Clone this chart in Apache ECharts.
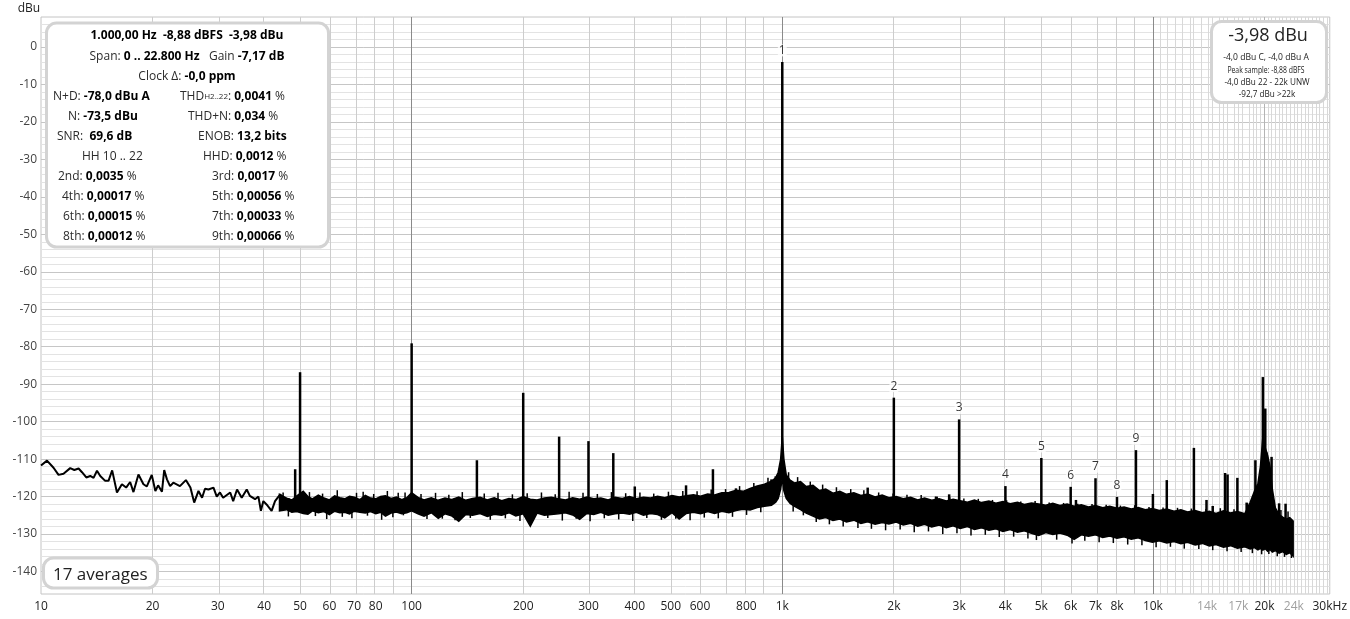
<!DOCTYPE html>
<html><head><meta charset="utf-8">
<script src="https://cdn.jsdelivr.net/npm/echarts@6/dist/echarts.min.js"></script>
<style>html,body{margin:0;padding:0;background:#fff}#c{width:1350px;height:619px}</style>
</head><body><div id="c"></div>
<script>
// ---------- axis ticks ----------
const xTickFreqs = [10,20,30,40,50,60,70,80,100,200,300,400,500,600,800,1000,2000,3000,4000,5000,6000,7000,8000,10000,14000,17000,20000,24000,30000];
const xTickLabels = ['10','20','30','40','50','60','70','80','100','200','300','400','500','600','800','1k','2k','3k','4k','5k','6k','7k','8k','10k','14k','17k','20k','24k','30kHz'];
const xTickFaint = ['14k','17k','24k'];
const yTickValues = [0,-10,-20,-30,-40,-50,-60,-70,-80,-90,-100,-110,-120,-130,-140];

// ---------- low-frequency trace (Hz, dBu) ----------
const lowFreq = [10.0,10.38,10.81,11.15,11.5,11.99,12.3,12.63,12.9,13.25,
  13.58,13.86,14.16,14.45,14.9,15.21,15.56,16.03,16.53,16.97,
  17.4,17.76,18.32,18.9,19.3,19.9,20.35,20.7,21.2,21.5,
  21.87,22.3,22.75,23.7,24.6,25.3,25.9,26.6,27.2,27.7,
  28.3,29.2,29.8,30.4,31.0,32.4,33.0,33.8,34.8,35.9,
  36.6,37.8,38.6,39.2,39.8,40.6,41.9,42.8,44.2,45.1,46.9];
const lowDb = [-111.7,-110.4,-112.3,-114.2,-113.9,-112.4,-112.9,-112.5,-113.5,-114.9,
  -114.5,-115.0,-113.1,-114.5,-115.8,-115.8,-113.0,-118.9,-116.7,-117.6,
  -116.1,-118.8,-114.1,-116.7,-117.3,-114.2,-118.5,-117.0,-118.7,-112.9,
  -115.4,-117.2,-116.3,-117.2,-115.6,-117.6,-121.6,-118.5,-120.3,-117.9,
  -118.1,-117.6,-120.0,-118.9,-120.3,-118.9,-121.2,-118.1,-120.3,-118.1,
  -119.8,-120.7,-120.0,-123.8,-121.2,-122.1,-123.8,-121.2,-119.4,-120.7,-120.7];

// ---------- noise band: frequency, upper and lower envelope (dBu) ----------
const bandFreq = [
  44,46,47.5,49,51,52.5,54,56,58,60,
  62,64,66,68,70,72.5,75,77.5,80,82.5,
  85,88,91,94,97,
  100,104,108,113,118,123,128,134,140,146,
  153,160,167,175,183,191,200,209,218,228,
  238,249,260,272,284,297,310,324,339,354,
  370,387,404,422,441,461,482,504,527,551,
  576,602,629,657,687,718,750,784,819,856,
  895,935,960,975,990,1000,
  1010,1025,1050,1080,1120,1160,1210,1260,1310,1370,
  1430,1490,1560,1630,1700,1780,1860,1940,2030,2120,
  2220,2320,2420,2530,2650,2770,2890,3020,3160,3300,
  3450,3610,3770,3940,4120,4310,4500,4700,4920,5140,
  5370,5610,5870,6130,6410,6700,7000,7320,7650,8000,
  8360,8740,9130,9540,9970,10400,10900,11400,11900,12400,
  13000,13600,14200,14800,15500,16200,16900,17700,18300,18800,
  19200,19500,19800,20100,20400,20700,21000,21400,21900,22400,
  22900,23400,23900];
const bandHi = [
  -119.4,-120.4,-120.9,-119.8,-118.6,-120.0,-120.6,-119.6,-120.4,-120.9,
  -119.8,-120.3,-120.6,-119.9,-120.2,-120.8,-119.7,-120.4,-120.6,-120.0,
  -119.8,-120.5,-120.1,-120.8,-120.3,
  -119.0,-120.2,-120.9,-120.3,-121.0,-120.4,-120.8,-120.1,-121.0,-120.5,
  -120.2,-120.9,-120.3,-121.1,-120.5,-120.8,-120.0,-120.7,-120.9,-120.4,
  -120.2,-120.6,-120.9,-120.3,-120.7,-120.1,-120.6,-120.4,-120.9,-120.2,
  -120.5,-120.0,-120.6,-120.2,-120.4,-119.9,-120.3,-119.7,-120.1,-119.8,
  -119.5,-119.9,-119.3,-119.6,-119.0,-118.9,-118.3,-118.6,-117.8,-117.2,
  -116.7,-115.9,-115.0,-113.5,-110.0,-104.0,
  -110.0,-114.2,-115.6,-116.4,-116.0,-117.3,-117.0,-118.4,-118.0,-119.1,
  -118.6,-119.4,-119.0,-119.7,-119.3,-120.1,-119.6,-120.3,-120.0,-120.6,
  -120.2,-120.9,-120.4,-121.0,-120.6,-121.2,-120.7,-121.1,-121.5,-120.9,
  -121.6,-121.2,-121.8,-121.3,-121.9,-121.5,-122.1,-121.7,-122.0,-122.3,
  -121.8,-122.4,-122.0,-122.6,-122.2,-122.8,-122.4,-123.0,-122.6,-123.1,
  -122.8,-123.3,-122.9,-123.5,-123.2,-123.7,-123.3,-123.9,-123.5,-124.1,
  -123.7,-124.3,-123.9,-124.5,-123.8,-124.4,-124.0,-124.6,-121.5,-118.5,
  -116.5,-112.0,-104.0,-107.0,-109.0,-112.0,-118.0,-123.0,-124.8,-125.5,
  -126.0,-125.6,-126.5];
const bandLo = [
  -123.8,-123.5,-124.2,-124.0,-124.5,-124.7,-123.8,-124.3,-124.0,-124.8,
  -123.9,-124.3,-124.2,-124.6,-123.9,-124.2,-124.4,-124.0,-124.6,-124.2,
  -125.2,-124.4,-124.1,-124.6,-124.3,
  -123.8,-124.6,-125.2,-124.3,-125.8,-124.6,-125.1,-126.6,-124.8,-125.0,
  -124.5,-125.3,-124.7,-125.0,-124.3,-125.2,-124.6,-127.9,-124.4,-125.0,
  -124.8,-124.6,-124.3,-124.9,-126.1,-124.5,-124.8,-124.2,-125.0,-124.6,
  -124.4,-124.7,-124.2,-125.0,-124.5,-124.8,-125.7,-124.3,-126.0,-124.5,
  -124.2,-124.6,-124.0,-124.5,-123.9,-124.3,-123.7,-123.4,-123.6,-122.9,
  -122.6,-122.3,-121.5,-120.5,-118.0,-115.0,
  -118.5,-120.5,-121.8,-122.6,-123.5,-124.4,-125.2,-126.0,-125.6,-126.4,
  -126.0,-126.8,-126.3,-127.2,-126.7,-127.4,-126.9,-127.3,-126.8,-127.6,
  -127.1,-127.9,-127.4,-128.1,-127.6,-128.3,-127.8,-128.5,-128.0,-128.8,
  -128.3,-129.0,-128.6,-129.3,-128.8,-129.5,-129.1,-129.8,-130.4,-129.6,
  -130.1,-129.7,-130.3,-131.4,-130.2,-130.6,-130.2,-130.9,-130.5,-131.1,
  -130.7,-131.4,-131.0,-131.7,-132.2,-131.8,-132.4,-132.0,-132.6,-132.2,
  -132.9,-132.5,-133.2,-132.8,-133.5,-133.1,-133.8,-133.4,-134.0,-133.6,
  -134.2,-133.8,-134.3,-133.9,-134.6,-134.1,-134.8,-134.4,-135.1,-134.7,
  -135.4,-135.0,-135.9];

// ---------- short noise spikes sticking out of the band (Hz, dBu) ----------
const hairFreq = [
  45,53,57.5,63,71,74,79,86,92,96,
  46.5,55,59,65,69,76,83,89,95,
  106,116,126,137,157,171,187,205,224,244,266,290,317,346,378,413,450,493,539,589,643,703,767,838,915,
  110,121,131,144,163,179,196,214,233,255,278,303,331,362,395,431,472,516,564,616,672,734,801,875,
  1040,1100,1190,1285,1400,1530,1660,1820,1990,2170,2370,2590,2830,3090,3380,3690,4030,4400,4810,5250,
  5740,6270,6850,7480,8170,8930,9760,10650,11650,12700,13900,15200,16550,18000,21200,22150,23150,
  1070,1140,1235,1340,1460,1600,1740,1900,2080,2270,2480,2710,2960,3230,3530,3850,4210,4600,4850,5500,
  6050,6550,7160,7820,8550,9340,10200,11150,12150,13300,14500,15850,17300,18550,19650,20550,21650,22650,23650];
const hairDb = [
  -118.9,-118.8,-119.2,-118.3,-119.0,-118.7,-119.3,-118.5,-119.0,-118.9,
  -125.3,-125.2,-126.0,-125.4,-125.8,-125.1,-126.2,-125.5,-125.0,
  -119.3,-119.0,-119.5,-118.8,-119.2,-119.0,-119.4,-119.1,-118.9,-119.4,-118.7,-119.0,-119.3,-118.8,-119.1,-118.9,-119.2,-118.7,-118.5,-118.6,-118.1,-118.0,-117.2,-116.4,-115.0,
  -126.0,-125.9,-126.3,-125.7,-126.2,-125.8,-126.5,-126.0,-125.7,-126.4,-125.9,-126.6,-125.8,-126.1,-126.5,-125.7,-126.2,-125.9,-126.3,-125.6,-125.8,-125.4,-124.9,-124.2,
  -113.5,-114.8,-116.0,-116.8,-117.5,-118.0,-118.3,-118.9,-119.2,-119.5,-119.6,-120.0,-120.2,-120.5,-120.6,-120.9,-121.0,-121.3,-121.2,-121.6,
  -121.7,-121.9,-122.0,-122.2,-122.4,-122.3,-122.8,-122.9,-123.0,-123.2,-123.3,-123.1,-123.4,-121.8,-121.0,-123.6,-124.0,
  -124.0,-125.0,-126.8,-127.4,-128.0,-128.4,-128.6,-129.0,-128.8,-129.5,-129.3,-130.0,-129.8,-130.4,-130.2,-130.8,-130.7,-131.2,-131.6,-131.5,
  -132.5,-131.8,-132.2,-132.4,-132.8,-133.0,-133.5,-133.4,-133.9,-134.0,-134.3,-134.6,-134.8,-135.1,-135.4,-135.3,-135.9,-136.1,-136.4];

// ---------- spurious peaks (Hz, dBu) ----------
const spurFreq = [48.5,50,100,150,200,250,300,350,400,550,650,750,840,885,935,960,
  1700,2610,2820,6200,10000,10900,12900,13950,14500,15660,15900,16900,17900,18900,19050,
  19800,20100,20250,20900,21900,22800];
const spurDb = [-112.7,-86.8,-79.1,-110.3,-92.3,-104.0,-105.2,-108.4,-117.3,-117.0,-112.7,-117.8,-117.8,-117.0,-115.4,-114.6,
  -117.6,-120.0,-119.4,-120.9,-119.3,-115.6,-107.0,-120.9,-122.5,-113.7,-114.1,-115.0,-121.6,-110.3,-117.3,
  -88.1,-96.5,-108.2,-109.4,-121.8,-121.9];

// ---------- fundamental + harmonics ----------
const harmFreq = [1000,2000,3000,4000,5000,6000,7000,8000,9000];
const harmDb = [-3.98,-93.6,-99.4,-117.2,-109.7,-117.4,-115.1,-120.1,-107.6];
const harmLabel = ['1','2','3','4','5','6','7','8','9'];

const L = Math.log10;
const F = '"Open Sans", sans-serif';

// base of a vertical mark = middle of the nearest noise-band sample
function bandMid(logf) {
  let best = 0, bd = Infinity;
  for (let i = 0; i < bandFreq.length; i++) {
    const d = Math.abs(L(bandFreq[i]) - logf);
    if (d < bd) { bd = d; best = i; }
  }
  return (bandHi[best] + bandLo[best]) / 2;
}
function stickRenderer(width) {
  return (params, api) => {
    const top = api.coord([api.value(0), api.value(1)]);
    const bot = api.coord([api.value(0), bandMid(api.value(0))]);
    return {type: 'line', shape: {x1: top[0], y1: top[1], x2: bot[0], y2: bot[1]},
      style: {stroke: '#000', lineWidth: width}};
  };
}

// ---------- grid lines ----------
const gridLines = [];
const addV = (f, c) => gridLines.push({xAxis: L(f), lineStyle: {color: c, width: 1, type: 'solid'}});
const addH = (v, c) => gridLines.push({yAxis: v, lineStyle: {color: c, width: 1, type: 'solid'}});
for (let v = -144; v <= 6; v += 2) addH(v, v % 10 === 0 ? '#c6c6c6' : '#e3e3e3');
for (const d of [10, 100, 1000]) for (let k = 2; k <= 9; k++) addV(k * d, '#cdcdcd');
for (let f = 10500; f < 30000; f += 500) if (f !== 20000) addV(f, '#d8d8d8');
addV(20000, '#b4b4b4');
[100, 1000, 10000].forEach(f => addV(f, '#8a8a8a'));

function xLabelIndex(v) {
  for (let i = 0; i < xTickFreqs.length; i++) if (Math.abs(L(xTickFreqs[i]) - v) < 1e-6) return i;
  return -1;
}

const rich = {
  r: {font: `12px ${F}`, fill: '#2b2b2b'},
  b: {font: `bold 12px ${F}`, fill: '#000'},
  s: {font: `8px ${F}`, fill: '#2b2b2b'}
};
function t(x, y, text, align) {
  return {type: 'text', x: x, y: y, z: 101, style: {text: text, font: `12px ${F}`, fill: '#2b2b2b',
    align: align || 'left', verticalAlign: 'middle', rich: rich}};
}
function small(x, y, text, sx) {
  return {type: 'text', x: x, y: y, z: 101, scaleX: sx, style: {text: text, font: `9.5px ${F}`, fill: '#222',
    align: 'center', verticalAlign: 'middle'}};
}
function box(x, y, w, h) {
  return {type: 'rect', z: 100, shape: {x: x, y: y, width: w, height: h, r: 10},
    style: {fill: '#fff', stroke: '#d3d3d3', lineWidth: 3}};
}

const graphics = [
  {type: 'text', x: 29, y: 9, z: 101, style: {text: 'dBu', font: `12px ${F}`, fill: '#222', align: 'center', verticalAlign: 'middle'}},
  box(46.5, 23, 282, 224),
  t(187, 36, '{b|1.000,00 Hz  -8,88 dBFS  -3,98 dBu}', 'center'),
  t(187, 57, '{r|Span: }{b|0 .. 22.800 Hz}{r|   Gain }{b|-7,17 dB}', 'center'),
  t(187, 77, '{r|Clock Δ: }{b|-0,0 ppm}', 'center'),
  t(53, 97, '{r|N+D: }{b|-78,0 dBu A}'),
  t(68, 117, '{r|N: }{b|-73,5 dBu}'),
  t(57, 137, '{r|SNR:  }{b|69,6 dB}'),
  t(82, 157, '{r|HH 10 .. 22}'),
  t(58, 177, '{r|2nd: }{b|0,0035}{r| %}'),
  t(62, 197, '{r|4th: }{b|0,00017}{r| %}'),
  t(63, 217, '{r|6th: }{b|0,00015}{r| %}'),
  t(63, 237, '{r|8th: }{b|0,00012}{r| %}'),
  t(180, 97, '{r|THD}{s|H2..22}{r|: }{b|0,0041}{r| %}'),
  t(188, 117, '{r|THD+N: }{b|0,034}{r| %}'),
  t(198, 137, '{r|ENOB: }{b|13,2 bits}'),
  t(203, 157, '{r|HHD: }{b|0,0012}{r| %}'),
  t(212, 177, '{r|3rd: }{b|0,0017}{r| %}'),
  t(212, 197, '{r|5th: }{b|0,00056}{r| %}'),
  t(212, 217, '{r|7th: }{b|0,00033}{r| %}'),
  t(212, 237, '{r|9th: }{b|0,00066}{r| %}'),
  box(1211.5, 21.5, 115, 81),
  {type: 'text', x: 1268, y: 36, z: 101, style: {text: '-3,98 dBu', font: `18px ${F}`, fill: '#222', align: 'center', verticalAlign: 'middle'}},
  small(1266, 57.5, '-4,0 dBu C, -4,0 dBu A', 0.9),
  small(1266, 70.5, 'Peak sample: -8,88 dBFS', 0.72),
  small(1267, 82.5, '-4,0 dBu 22 - 22k UNW', 0.86),
  small(1267, 94, '-92,7 dBu >22k', 0.86),
  box(43.5, 558, 114, 30),
  {type: 'text', x: 53, y: 575, z: 101, style: {text: '17 averages', font: `17px ${F}`, fill: '#222', align: 'left', verticalAlign: 'middle'}}
];

const chart = echarts.init(document.getElementById('c'));
chart.setOption({
  animation: false,
  backgroundColor: '#fff',
  grid: {left: 41, right: 19, top: 17, bottom: 25, show: true, borderColor: '#c4c4c4', borderWidth: 1, backgroundColor: '#fff'},
  xAxis: {
    type: 'value', min: 1, max: L(30000),
    axisLine: {show: false}, axisTick: {show: false}, splitLine: {show: false},
    axisLabel: {
      customValues: xTickFreqs.map(L),
      formatter: v => { const i = xLabelIndex(v); return i >= 0 ? xTickLabels[i] : ''; },
      color: v => { const i = xLabelIndex(v); return (i >= 0 && xTickFaint.indexOf(xTickLabels[i]) >= 0) ? '#a0a0a0' : '#222'; },
      fontSize: 12, fontFamily: F, margin: 7, hideOverlap: false
    }
  },
  yAxis: {
    type: 'value', min: -146, max: 8,
    axisLine: {show: false}, axisTick: {show: false}, splitLine: {show: false},
    axisLabel: {customValues: yTickValues, color: '#444', fontSize: 12, fontFamily: F, margin: 4}
  },
  series: [
    {
      type: 'custom', name: 'band', z: 3, clip: true,
      data: [[L(bandFreq[0]), bandHi[0]]], encode: {x: 0, y: 1},
      renderItem: (params, api) => {
        if (params.dataIndex !== 0) return;
        const n = Math.min(bandFreq.length, bandHi.length, bandLo.length);
        const pts = [];
        for (let i = 0; i < n; i++) pts.push(api.coord([L(bandFreq[i]), bandHi[i]]));
        for (let i = n - 1; i >= 0; i--) pts.push(api.coord([L(bandFreq[i]), bandLo[i]]));
        return {type: 'polygon', shape: {points: pts}, style: {fill: '#000', stroke: '#000', lineWidth: 1.5}};
      }
    },
    {
      type: 'custom', name: 'hair', z: 3, clip: true,
      data: hairFreq.map((f, i) => [L(f), hairDb[i]]), encode: {x: 0, y: 1},
      renderItem: stickRenderer(1.5)
    },
    {
      type: 'custom', name: 'peaks', z: 3, clip: true,
      data: spurFreq.map((f, i) => [L(f), spurDb[i]]).concat(harmFreq.map((f, i) => [L(f), harmDb[i]])),
      encode: {x: 0, y: 1},
      renderItem: stickRenderer(2.5)
    },
    {
      type: 'line', name: 'low', z: 3, symbol: 'none',
      data: lowFreq.map((f, i) => [L(f), lowDb[i]]),
      lineStyle: {color: '#000', width: 2},
      markLine: {silent: true, z: 1, symbol: ['none', 'none'], label: {show: false}, animation: false, data: gridLines}
    },
    {
      type: 'scatter', name: 'labels', z: 5, symbolSize: 1,
      itemStyle: {color: 'rgba(0,0,0,0)'},
      data: harmFreq.map((f, i) => ({name: harmLabel[i], value: [L(f), harmDb[i]]})),
      label: {show: true, position: 'top', distance: 5, formatter: '{b}', color: '#000', fontSize: 12, fontFamily: F,
        backgroundColor: '#fff', padding: [0, 1, 0, 1]}
    }
  ],
  graphic: {elements: graphics}
});
</script></body></html>
